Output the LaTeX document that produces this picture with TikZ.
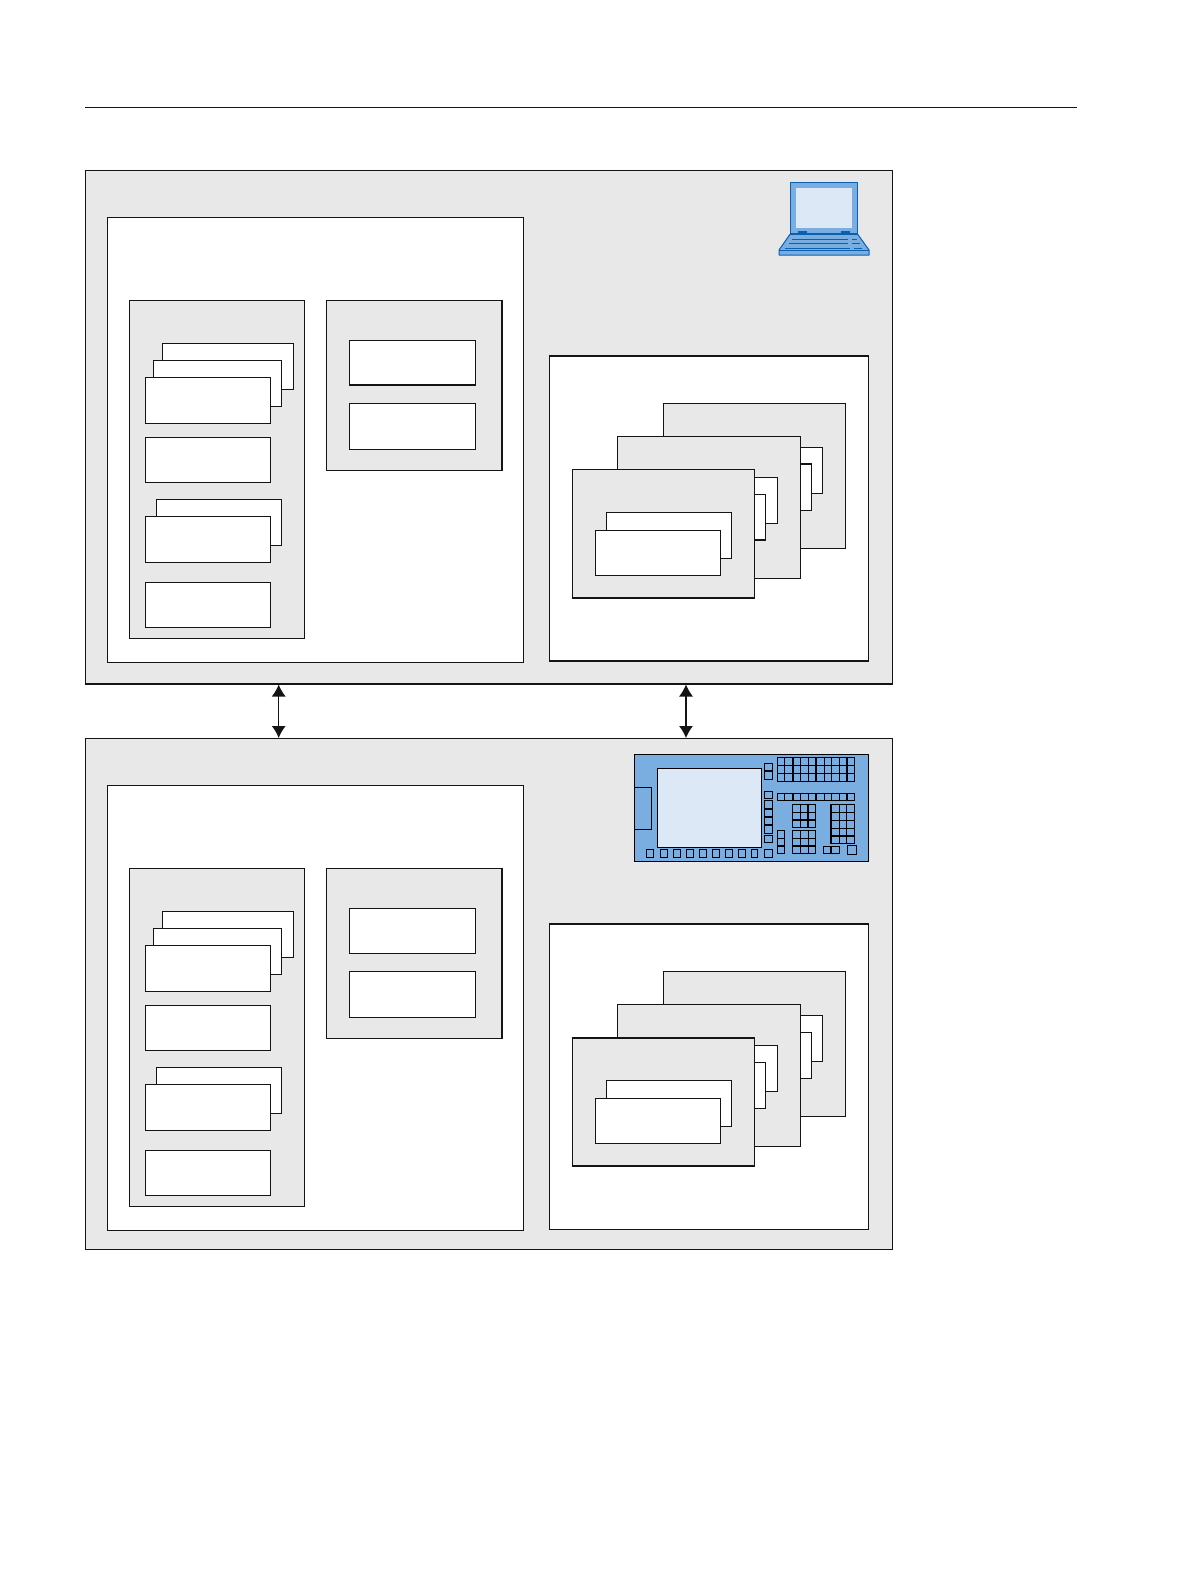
\documentclass[tikz,border=0pt]{standalone}
\usetikzlibrary{arrows.meta}
\definecolor{ink}{HTML}{141414}
\definecolor{panelgrey}{HTML}{E8E8E8}
\definecolor{hmiblue}{HTML}{7BAEE0}
\definecolor{hmilight}{HTML}{DDE8F7}
\definecolor{lapline}{HTML}{0A5FAE}
\tikzset{
  boxbase/.style={draw=ink,line width=1.05pt,inner sep=0pt,outer sep=0pt,rectangle},
  greybox/.style={boxbase,fill=panelgrey},
  whitebox/.style={boxbase,fill=white},
  heavy/.style={line width=1.5pt},
  biarrow/.style={draw=ink,line width=1.1pt,{Latex[length=12pt,width=14pt]}-{Latex[length=12pt,width=14pt]},shorten >=.5pt,shorten <=.5pt},
  hmi/.style={draw=black,line width=1pt,fill=hmiblue},
  hmibar/.style={draw=black,line width=2pt},
  lap/.style={draw=lapline,line width=1pt},
}
% box with corners in pixel coordinates
\newcommand{\bx}[6]{%
  \pgfmathsetmacro{\bxw}{(#5)-(#3)}%
  \pgfmathsetmacro{\bxh}{(#6)-(#4)}%
  \pgfmathsetmacro{\bxx}{((#5)+(#3))/2}%
  \pgfmathsetmacro{\bxy}{((#6)+(#4))/2}%
  \node[#1,minimum width=\bxw pt,minimum height=\bxh pt] (#2) at (\bxx,\bxy) {};}
% one station: prefix, vertical offset, lower edge of the outer box
\newcommand{\stationunit}[3]{%
  \bx{greybox}{#1outer}{85.3}{170.3+#2}{892.5}{#3}
  \bx{whitebox}{#1left}{107.3}{217.3+#2}{523.7}{662.5+#2}
  \bx{greybox}{#1pa}{129.3}{300.3+#2}{304.3}{638.5+#2}
  \bx{whitebox}{#1c}{162.3}{343.7+#2}{293.7}{389.3+#2}
  \bx{whitebox}{#1b}{153.3}{360.3+#2}{281.2}{406.3+#2}
  \bx{whitebox}{#1a}{145.3}{377.3+#2}{270.7}{423.3+#2}
  \bx{whitebox}{#1d}{145.3}{437.3+#2}{270.7}{482.3+#2}
  \bx{whitebox}{#1e}{156.6}{499.5+#2}{281.5}{545.5+#2}
  \bx{whitebox}{#1f}{145.3}{516.3+#2}{270.7}{562.7+#2}
  \bx{whitebox}{#1g}{145.3}{582.5+#2}{270.7}{627.5+#2}
  \bx{greybox}{#1pb}{326.5}{300.3+#2}{502}{470.5+#2}
  \bx{whitebox}{#1h}{349.2}{340.5+#2}{475.5}{385+#2}
  \bx{whitebox}{#1i}{349.2}{403.5+#2}{475.5}{449.5+#2}
  \bx{whitebox}{#1right}{549.3}{355.8+#2}{868.5}{661+#2}
  \bx{greybox}{#1s}{663.3}{403.3+#2}{845.7}{548.3+#2}
  \bx{whitebox}{#1sa}{697}{447.3+#2}{822.3}{493.3+#2}
  \bx{whitebox}{#1sb}{686}{464+#2}{811.3}{510.3+#2}
  \bx{greybox}{#1t}{617.7}{436.3+#2}{800.3}{578.3+#2}
  \bx{whitebox}{#1ta}{652}{477.3+#2}{777.7}{523.3+#2}
  \bx{whitebox}{#1tb}{641}{494.3+#2}{765.7}{540+#2}
  \bx{greybox}{#1u}{572.3}{469.7+#2}{754.7}{598+#2}
  \bx{whitebox}{#1ua}{606.3}{512.7+#2}{731.7}{558.3+#2}
  \bx{whitebox}{#1ub}{595.3}{530.3+#2}{720.7}{575.7+#2}
}
% small key, in coordinates of the panel artwork (3 units = 1 px)
\newcommand{\key}[4]{\draw[hmi] ({625+(#1)/3},{745+(#2)/3}) rectangle ({625+(#3)/3},{745+(#4)/3});}
\newcommand{\keybar}[4]{\draw[hmibar] ({625+(#1)/3},{745+(#2)/3}) -- ({625+(#3)/3},{745+(#4)/3});}
\begin{document}
\begin{tikzpicture}[x=1pt,y=-1pt]
\useasboundingbox (0,0) rectangle (1190,1584);
\fill[white] (0,0) rectangle (1190,1584);
\draw[ink,line width=1pt] (85,107.5) -- (1077,107.5);
\stationunit{p}{0}{684}
\stationunit{q}{568.2}{1249.5}
\draw[ink,line width=1.9pt] (pouter.south west) -- (pouter.south east);
\draw[ink,line width=1.9pt] (qouter.north west) -- (qouter.north east);
% heavier edges, where the reference prints them heavier
\draw[ink,heavy] (qpb.north west) -- (qpb.north east) (qpb.south west) -- (qpb.south east);
\draw[ink,heavy] (qpa.north west) -- (qpa.north east) (qpa.south west) -- (qpa.south east);
\draw[ink,heavy] (pright.north west) -- (pright.north east) (pright.south west) -- (pright.south east);
\draw[ink,heavy] (qright.north west) -- (qright.north east);
\draw[ink,heavy] (pc.north west) -- (pc.north east);
\draw[ink,heavy] (pu.north west) -- (pu.north east) (pu.south west) -- (pu.south east);
\draw[ink,heavy] (pt.north west) -- (pt.north east) -- (pt.south east) -- (pt.south -| pu.east);
\draw[ink,heavy] (pua.north west) -- (pua.north east);
\draw[ink,heavy] (qu.north west) -- (qu.north east) (qu.south west) -- (qu.south east);
\draw[ink,heavy] (qt.north east) -- (qt.south east) -- (qt.south -| qu.east);
% connectors
\coordinate (axa) at (278.7,0);
\coordinate (axb) at (686,0);
\draw[biarrow] (axa |- pouter.south) -- (axa |- qouter.north);
\draw[biarrow] (axb |- pouter.south) -- (axb |- qouter.north);
% laptop
\draw[lap,fill=hmiblue,line width=1.2pt] (790.3,182.3) rectangle (857.7,233.3);
\fill[hmilight] (796,187.7) rectangle (852,228.3);
\fill[lapline] (798,231) rectangle (807,233.3);
\fill[lapline] (841,231) rectangle (850,233.3);
\draw[lap,fill=hmiblue,line join=round] (790,234.3) -- (857.7,234.3) -- (869,250) -- (869,255) -- (779,255) -- (779,250) -- cycle;
\draw[lap] (779,250) -- (869,250);
\draw[lap,line width=.8pt] (792,239) -- (848,239) (852,239) -- (857,239);
\draw[lap,line width=.8pt] (789,243.5) -- (848,243.5) (852,243.5) -- (860,243.5);
\draw[lap,line width=.8pt] (785,248) -- (850,248) (854,248) -- (862,248);
% operator panel
\draw[hmi] (634.3,754.3) rectangle (868.7,861.3);
\draw[hmi] (634.3,787.3) rectangle (651.7,829.3);
\draw[draw=black,line width=1pt,fill=hmilight] (657.3,768.3) rectangle (761.7,847.3);
\foreach \a/\b in {64/86,106/128,145/167,184/206,223/245,262/284,301/323,340/362,378/398,418/443}
  {\key{\a}{314}{\b}{338}}
\foreach \a/\b in {55/78,78/103,139/161,167/191,191/216,216/241,241/266,271/293}
  {\key{418}{\a}{443}{\b}}
\foreach \a/\b in {457/478,478/503,503/527,527/550,550/573,573/597,597/619,619/643,643/666,666/689}{
  \foreach \c/\d in {37/61,61/85,85/109,145/167}{\key{\a}{\c}{\b}{\d}}}
\foreach \a/\b in {502/527,527/550,550/572}{
  \foreach \c/\d in {178/202,202/226,226/248,256/280,280/302,302/326}{\key{\a}{\c}{\b}{\d}}}
\foreach \a/\b in {619/642,642/665,665/689}{
  \foreach \c/\d in {178/202,202/226,226/250,250/273,273/296}{\key{\a}{\c}{\b}{\d}}}
\foreach \c/\d in {256/280,280/302,302/326}{\key{457}{\c}{479}{\d}}
\key{595}{304}{619}{326}
\key{619}{304}{643}{326}
\key{667}{301}{694}{328}
% heavier dividers
\foreach \a in {503,573,666}{\keybar{\a}{37}{\a}{109}\keybar{\a}{145}{\a}{167}}
\keybar{550}{178}{550}{248}
\keybar{502}{226}{572}{226}
\keybar{502}{302}{572}{302}
\keybar{619}{178}{619}{296}
\keybar{619}{273}{689}{273}
\keybar{418}{78}{443}{78}
\keybar{418}{191}{443}{191}
\keybar{418}{216}{443}{216}
\keybar{418}{241}{443}{241}
\keybar{457}{302}{479}{302}
\keybar{619}{304}{619}{326}
\end{tikzpicture}
\end{document}
